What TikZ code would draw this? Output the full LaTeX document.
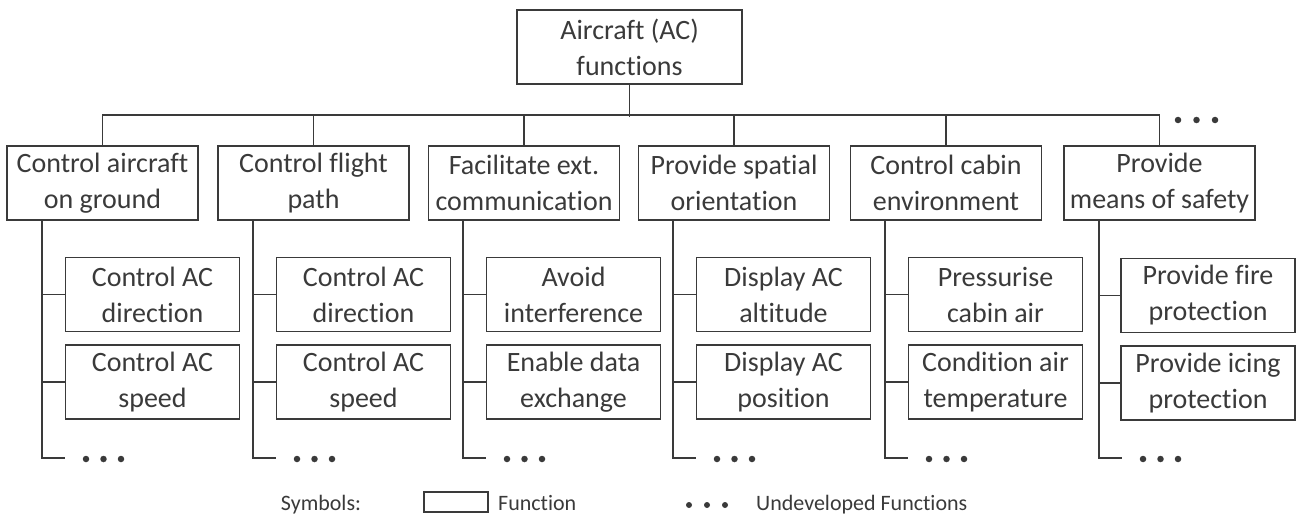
\documentclass[tikz,border=0pt]{standalone}
\usepackage{fontspec}
\setmainfont{Carlito}[Ligatures={NoCommon}]
\usetikzlibrary{calc}
\definecolor{ink}{HTML}{3A3A3A}
\tikzset{
 fn/.style={draw=ink, line width=1.6pt, text=ink, align=center, inner sep=0pt, font=\fontsize{28}{36}\selectfont},
 rootbox/.style={fn, minimum width=225pt, minimum height=74pt},
 lonebox/.style={fn, minimum width=191pt, minimum height=74pt},
 ltwobox/.style={fn, minimum width=174pt, minimum height=74pt},
 conn/.style={draw=ink, line width=1.6pt},
 dotnode/.style={circle, fill=ink, inner sep=0pt, minimum size=6.5pt},
 legtext/.style={text=ink, inner sep=0pt, font=\fontsize{22}{26}\selectfont}
}
\begin{document}
\begin{tikzpicture}[x=1pt,y=-1pt]
\useasboundingbox (0,0) rectangle (1297,516);
% root
\node[rootbox] (root) at (629.5,47) {Aircraft (AC)\\functions};
% level 1
\node[lonebox] (a1) at (102.5,183) {Control aircraft\\on ground};
\node[lonebox] (a2) at (313.5,183) {Control flight\\path};
\node[lonebox] (a3) at (524,183) {Facilitate ext.\\communication};
\node[lonebox] (a4) at (734,183) {Provide spatial\\orientation};
\node[lonebox] (a5) at (946,183) {Control cabin\\environment};
\node[lonebox] (a6) at (1159.5,183) {Provide\\means of safety};
% bus
\draw[conn] (root.south) -- ++(0,32);
\draw[conn] (a1.north) -- ++(0,-30) -| (a6.north);
\foreach \n in {a2,a3,a4,a5} \draw[conn] (\n.north) -- ++(0,-30);
\node[dotnode] (bd1) at (1178,120) {};
\node[dotnode] (bd2) at (1196.5,120) {};
\node[dotnode] (bd3) at (1215,120) {};
% trunks
\coordinate (t1) at (42,458);
\coordinate (t2) at (253,458);
\coordinate (t3) at (463,458);
\coordinate (t4) at (673,458);
\coordinate (t5) at (885,458);
\coordinate (t6) at (1099,458);
% children
\node[ltwobox] (c11) at (152.5,294.5) {Control AC\\direction};
\node[ltwobox] (c12) at (152.5,382) {Control AC\\speed};
\node[ltwobox] (c21) at (363.5,294.5) {Control AC\\direction};
\node[ltwobox] (c22) at (363.5,382) {Control AC\\speed};
\node[ltwobox] (c31) at (573.5,294.5) {Avoid\\interference};
\node[ltwobox] (c32) at (573.5,382) {Enable data\\exchange};
\node[ltwobox] (c41) at (783.5,294.5) {Display AC\\altitude};
\node[ltwobox] (c42) at (783.5,382) {Display AC\\position};
\node[ltwobox] (c51) at (995.5,294.5) {Pressurise\\cabin air};
\node[ltwobox] (c52) at (995.5,382) {Condition air\\temperature};
\node[ltwobox] (c61) at (1208,295.5) {Provide fire\\protection};
\node[ltwobox] (c62) at (1208,383) {Provide icing\\protection};
\foreach \i in {1,...,6}{
  \draw[conn] (a\i.south -| t\i) -- (t\i) -- ++(23,0);
  \draw[conn] (c\i1.west -| t\i) -- (c\i1.west);
  \draw[conn] (c\i2.west -| t\i) -- (c\i2.west);
  \node[dotnode] (e\i a) at ($(t\i)+(44,1)$) {};
  \node[dotnode] (e\i b) at ($(t\i)+(61.5,1)$) {};
  \node[dotnode] (e\i c) at ($(t\i)+(79,1)$) {};
}
% legend
\node[legtext, anchor=base] (sym) at (321,510) {Symbols:};
\node[draw=ink, line width=1.6pt, minimum width=64pt, minimum height=20pt, inner sep=0pt] (legbox) at (456,502) {};
\node[legtext, anchor=base west] (legfn) at (498,510) {Function};
\node[dotnode, minimum size=6pt] (ld1) at (689,505) {};
\node[dotnode, minimum size=6pt] (ld2) at (707,505) {};
\node[dotnode, minimum size=6pt] (ld3) at (725,505) {};
\node[legtext, anchor=base west] (legud) at (756,510) {Undeveloped Functions};
\end{tikzpicture}
\end{document}
